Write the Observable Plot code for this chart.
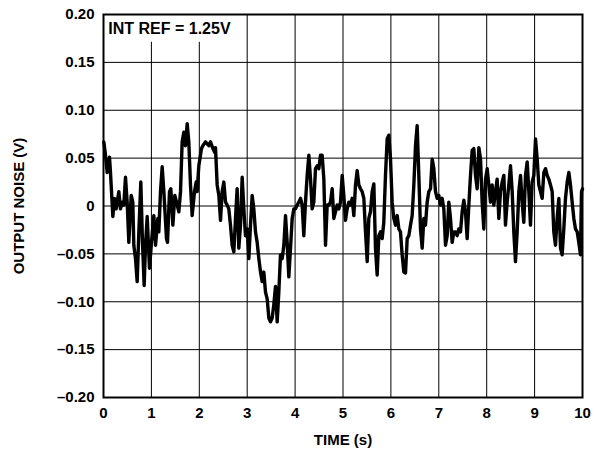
<!DOCTYPE html>
<html>
<head>
<meta charset="utf-8">
<script src="https://cdn.jsdelivr.net/npm/d3@7"></script>
<script src="https://cdn.jsdelivr.net/npm/@observablehq/plot@0.6"></script>
<style>
  html, body { margin: 0; padding: 0; background: #fff; }
</style>
</head>
<body>
<div id="chart"></div>
<script>
// Time (s)
const time = [
0.007,0.042,0.077,0.125,0.146,0.195,0.230,0.264,0.320,0.355,0.390,0.424,0.459,0.494,0.529,0.578,0.612,0.633,0.668,0.703,
0.738,0.779,0.814,0.849,0.877,0.912,0.960,1.002,1.051,1.086,1.134,1.155,1.190,1.225,1.260,1.315,1.336,1.378,1.406,1.448,
1.489,1.524,1.573,1.608,1.642,1.677,1.712,1.747,1.781,1.816,1.851,1.900,1.935,1.955,1.990,2.046,2.074,2.129,2.199,2.234,
2.283,2.324,
2.338,2.373,2.408,2.443,2.477,2.512,2.547,2.582,2.616,2.651,2.686,2.721,2.756,2.790,2.825,2.860,2.895,2.930,2.964,2.999,
3.034,3.069,3.104,3.138,3.173,3.208,3.243,3.278,3.312,3.347,3.382,3.417,3.452,3.486,3.521,3.556,3.591,3.626,3.660,3.695,
3.730,3.765,3.800,3.834,3.869,3.904,3.939,3.974,4.008,4.043,4.078,4.113,4.148,4.182,4.217,4.252,4.287,4.322,4.356,4.391,
4.426,4.461,4.496,4.530,4.565,4.600,4.635,4.670,4.704,4.739,4.774,4.809,
4.843,4.878,4.913,4.948,4.983,5.017,5.052,5.087,5.122,5.157,5.191,5.226,5.261,5.296,5.331,5.365,5.400,5.435,5.470,5.505,
5.539,5.574,5.609,5.644,5.678,5.713,5.748,5.783,5.818,5.852,5.887,5.922,5.957,5.992,6.026,6.061,6.096,6.131,6.166,6.200,
6.235,6.270,6.305,6.340,6.374,6.409,6.444,6.479,6.514,6.548,6.583,6.618,6.653,6.688,6.722,6.757,6.792,6.827,6.862,6.896,
6.931,6.966,7.001,7.035,7.070,7.105,7.140,7.175,7.209,7.244,7.279,7.314,
7.349,7.383,7.418,7.453,7.488,7.523,7.557,7.592,7.627,7.662,7.697,7.731,7.766,7.801,7.836,7.871,7.905,7.940,7.975,8.010,
8.044,8.079,8.114,8.149,8.184,8.218,8.253,8.288,8.323,8.358,8.392,8.427,8.462,8.497,8.532,8.566,8.601,8.636,8.671,8.706,
8.740,8.775,8.810,8.845,8.880,8.914,8.949,8.984,9.019,9.054,9.088,9.123,9.158,9.193,9.228,9.262,9.297,9.332,9.367,9.401,
9.436,9.471,9.506,9.541,9.575,9.610,9.645,9.680,9.715,9.749,9.784,9.819,9.854,9.889,9.923,9.958,9.979,10.0
];
// Output noise (V)
const noise = [
0.067,0.053,0.035,0.051,0.035,-0.011,0.008,-0.003,0.015,-0.003,0.004,0.001,0.030,0.004,-0.038,0.011,0.004,-0.041,-0.055,-0.079,
-0.027,0.025,-0.038,-0.083,-0.041,-0.011,-0.065,-0.038,-0.010,-0.041,-0.013,-0.027,0.015,0.041,0.015,-0.034,-0.038,0.015,0.018,-0.020,
0.011,0.004,-0.006,0.015,0.067,0.077,0.063,0.086,0.067,0.022,-0.010,0.015,0.025,0.015,0.042,0.060,0.063,0.067,0.063,0.067,
0.060,0.056,
0.061,0.022,0.011,-0.015,0.015,0.025,0.004,0.001,-0.003,-0.020,-0.041,-0.048,-0.013,0.018,-0.044,-0.020,0.030,-0.003,-0.031,-0.024,
-0.055,-0.020,0.011,-0.003,-0.027,-0.038,-0.055,-0.069,-0.079,-0.069,-0.090,-0.097,-0.117,-0.121,-0.117,-0.103,-0.084,-0.121,-0.090,-0.051,
-0.055,-0.041,-0.010,-0.038,-0.074,-0.044,-0.013,-0.003,-0.003,0.001,0.004,0.008,0.001,-0.031,0.004,0.032,0.053,0.028,-0.003,0.004,
0.039,0.042,0.039,0.053,0.053,0.028,-0.041,0.001,0.001,0.004,0.018,-0.013,
-0.006,0.001,-0.003,0.004,0.032,0.011,-0.015,-0.003,0.004,0.001,0.008,-0.010,0.022,0.037,0.022,0.018,0.015,0.008,-0.027,-0.058,
-0.013,-0.006,0.015,0.023,-0.044,-0.072,-0.031,-0.027,-0.034,-0.017,0.032,0.070,0.074,0.049,0.004,-0.013,-0.020,-0.010,-0.024,-0.027,
-0.051,-0.069,-0.070,-0.034,-0.031,-0.020,-0.010,0.022,0.063,0.084,0.032,-0.024,-0.044,-0.013,-0.020,0.004,0.015,0.018,0.049,0.039,
0.015,0.008,0.011,0.001,0.008,-0.003,-0.041,-0.031,0.004,-0.013,-0.038,-0.027,
-0.027,-0.031,-0.024,-0.027,-0.006,0.006,-0.006,-0.034,0.001,0.032,0.058,0.060,0.032,0.018,0.061,0.049,0.004,-0.024,0.028,0.039,
0.022,0.004,0.022,0.001,0.015,0.028,-0.013,0.015,0.025,0.032,-0.020,0.004,0.022,0.042,0.015,-0.027,-0.058,-0.027,0.015,0.032,
0.004,-0.017,0.032,0.046,0.015,-0.020,0.025,0.032,0.070,0.049,0.022,0.015,0.008,0.035,0.039,0.032,0.028,0.022,0.015,-0.027,
-0.041,-0.013,0.008,-0.044,-0.051,-0.024,0.008,0.025,0.035,0.022,0.004,-0.013,-0.024,-0.027,-0.038,-0.051,0.015,0.018
];

const xTicks = [0,1,2,3,4,5,6,7,8,9,10];
const xTickLabels = ["0","1","2","3","4","5","6","7","8","9","10"];
const yTicks = [-0.20,-0.15,-0.10,-0.05,0,0.05,0.10,0.15,0.20];
const yTickLabels = ["–0.20","–0.15","–0.10","–0.05","0","0.05","0.10","0.15","0.20"];
const xTitle = "TIME (s)";
const yTitle = "OUTPUT NOISE (V)";
const noteText = "INT REF = 1.25V";
// annotation box, in data units (time, volts)
const noteBox = [{x1: 0, x2: 2.97, y1: 0.171, y2: 0.2}];
const notePos = [{x: 0.1, y: 0.1845, label: noteText}];

const data = time.map((t, i) => ({t, v: noise[i]}));
const font = "'Liberation Sans', Arial, Helvetica, sans-serif";

const chart = Plot.plot({
  width: 602,
  height: 453,
  marginLeft: 103,
  marginRight: 20,
  marginTop: 14,
  marginBottom: 56,
  style: {fontFamily: font, fontSize: "15px", fontWeight: "bold", color: "black", background: "white"},
  x: {domain: [0, 10]},
  y: {domain: [-0.2, 0.2]},
  marks: [
    Plot.ruleX(xTicks, {stroke: "black", strokeWidth: 1, strokeOpacity: 1}),
    Plot.ruleY(yTicks, {stroke: "black", strokeWidth: 1, strokeOpacity: 1}),
    Plot.rect(noteBox, {x1: "x1", x2: "x2", y1: "y1", y2: "y2", fill: "white"}),
    Plot.text(notePos, {x: "x", y: "y", text: "label", textAnchor: "start", fontSize: 16, fontWeight: "bold", fill: "black"}),
    Plot.line(data, {x: "t", y: "v", stroke: "black", strokeWidth: 3.4, strokeLinejoin: "round", strokeLinecap: "round"}),
    Plot.frame({stroke: "black", strokeWidth: 2}),
    Plot.axisX({ticks: xTicks, tickFormat: d => xTickLabels[xTicks.indexOf(d)], tickSize: 0, tickPadding: 10,
      label: xTitle, labelAnchor: "center", labelArrow: "none", labelOffset: 47, fontSize: 15, fontWeight: "bold"}),
    Plot.axisY({ticks: yTicks, tickFormat: d => yTickLabels[yTicks.findIndex(y => Math.abs(y - d) < 1e-9)], tickSize: 0, tickPadding: 9,
      label: yTitle, labelAnchor: "center", labelArrow: "none", labelOffset: 90, fontSize: 15, fontWeight: "bold"})
  ]
});
document.getElementById("chart").appendChild(chart);
</script>
</body>
</html>
